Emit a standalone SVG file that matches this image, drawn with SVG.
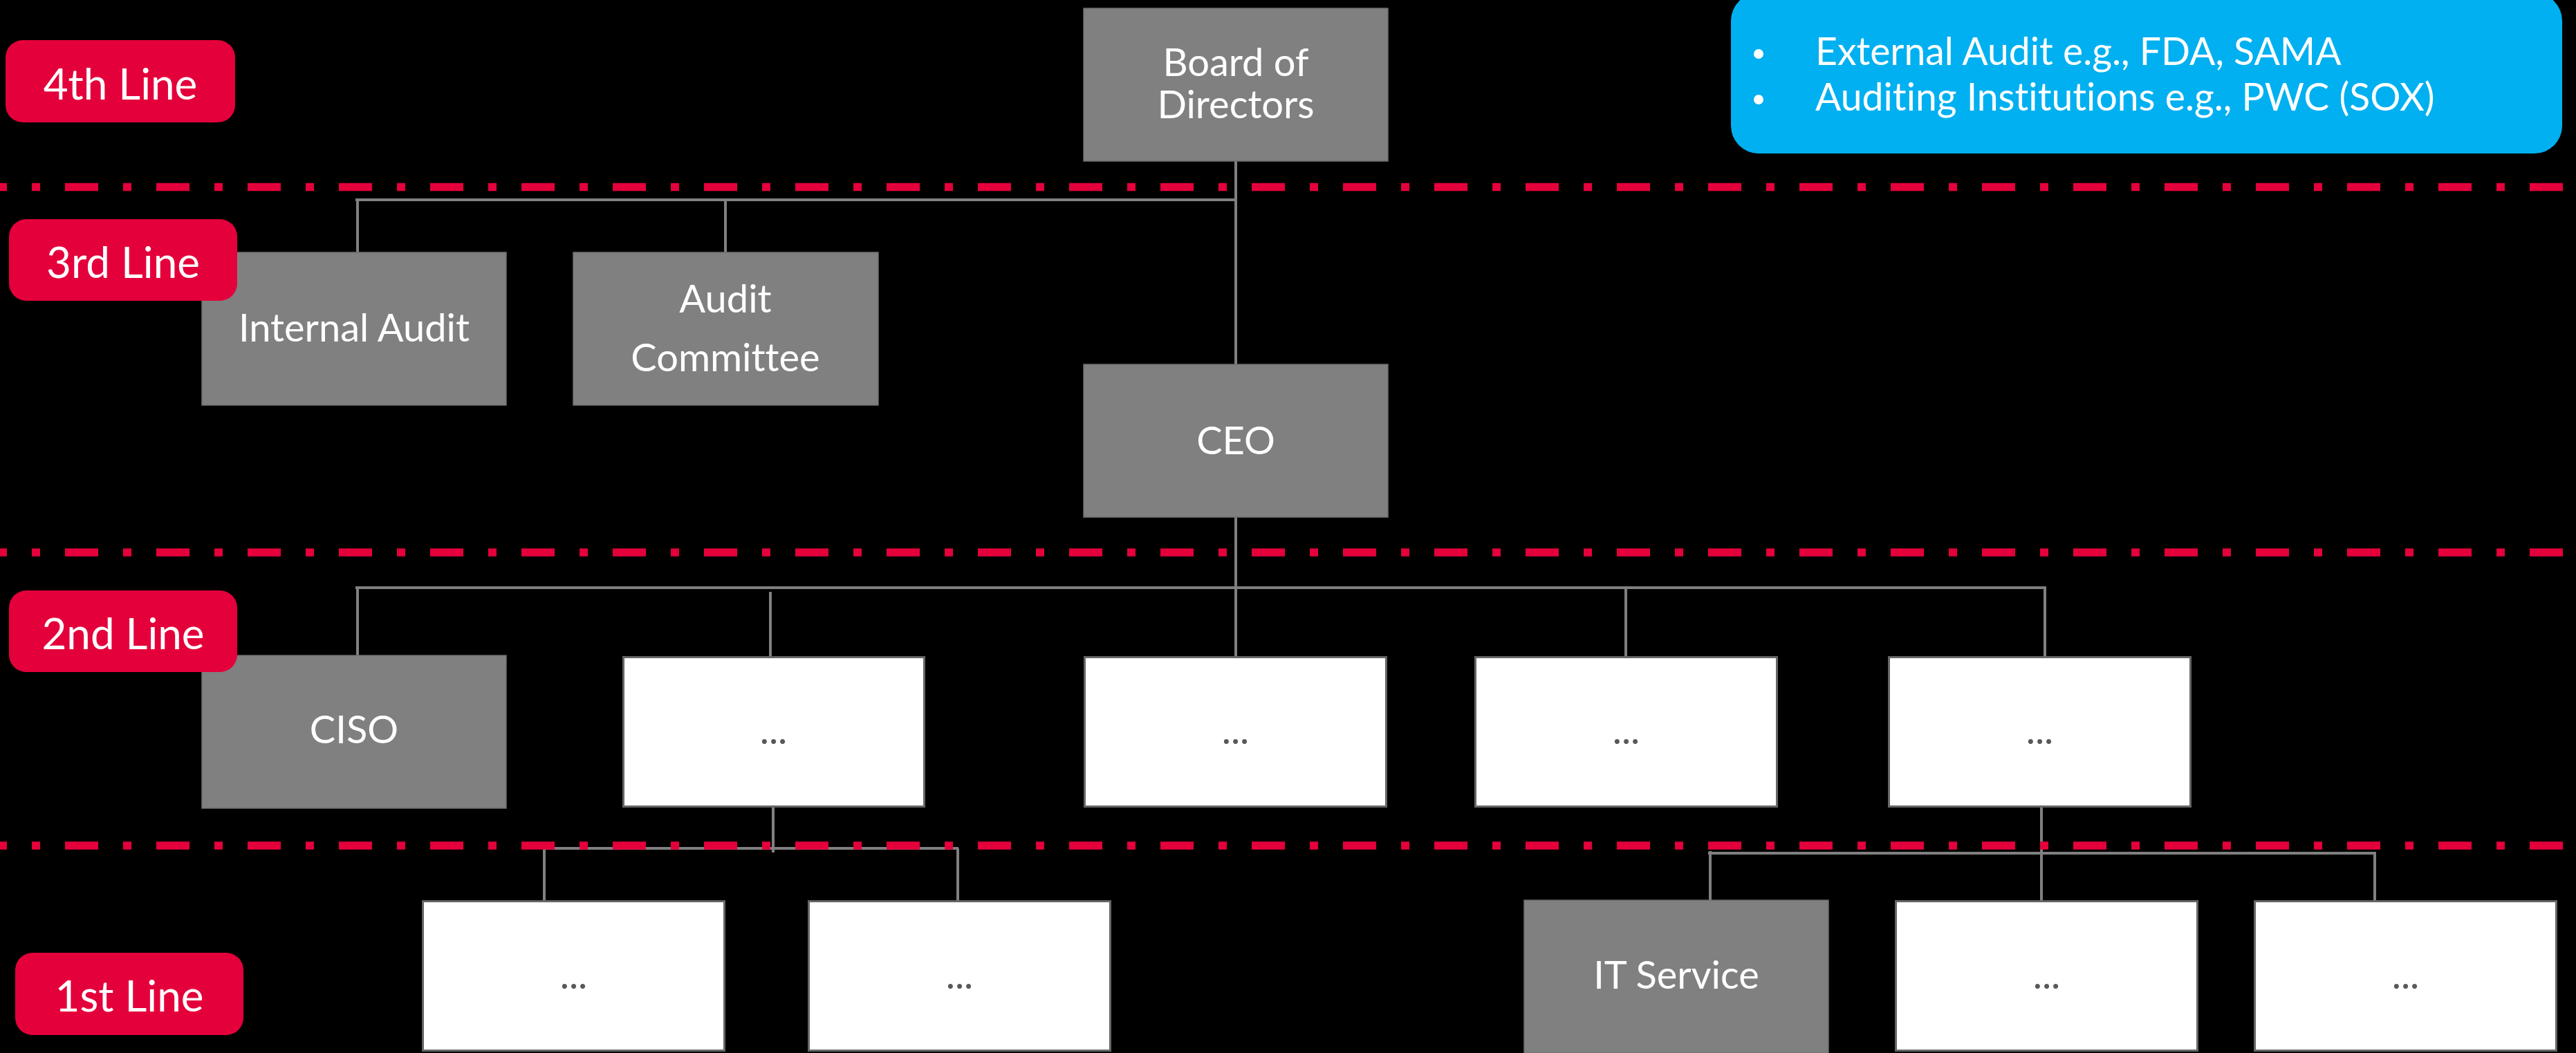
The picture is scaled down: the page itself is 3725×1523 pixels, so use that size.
<svg xmlns="http://www.w3.org/2000/svg" width="3725" height="1523" viewBox="0 0 3725 1523">
<style>
text{font-family:Lato,"Liberation Sans",sans-serif;font-variant-ligatures:none;}
.bg{fill:#000000;}
.gray{fill:#808080;stroke:#6e6e6e;stroke-width:1.5;}
.white{fill:#ffffff;stroke:#666666;stroke-width:3;}
.badge{fill:#E4003B;}
.lbl{fill:#ffffff;font-size:62px;text-anchor:middle;}
.nt{fill:#ffffff;font-size:56px;text-anchor:middle;}
.dots{fill:#595959;font-size:56px;text-anchor:middle;}
.bt{fill:#ffffff;font-size:55.3px;}
.conn{stroke:#808080;stroke-width:4;fill:none;}
.sep{stroke:#E4003B;stroke-width:11.5;stroke-dasharray:48 36 12 36;stroke-dashoffset:38;fill:none;}
</style>
<rect class="bg" x="0" y="0" width="3725" height="1523"/>

<g id="connectors">
<path class="conn" d="M1787 233V527M514 289H1787M517 289V365M1049 289V365"/>
<path class="conn" d="M1787 748V949M514 850H2959M517 850V948M1114 856V949M2351 850V949M2957 850V949"/>
<path class="conn" d="M1118 1168V1233M787 1227H1386M787 1227V1302M1385 1227V1302"/>
<path class="conn" d="M2952 1168V1302M2470 1234H3436M2473 1231V1302M3434 1234V1302"/>
</g>

<g id="separators">
<line class="sep" x1="0" y1="270.5" x2="3725" y2="270.5"/>
<line class="sep" x1="0" y1="799" x2="3725" y2="799"/>
<line class="sep" x1="0" y1="1223" x2="3725" y2="1223"/>
</g>

<g id="external-audit">
<rect x="2503" y="-10" width="1202" height="232" rx="40" fill="#00B0F0"/>
<circle cx="2543" cy="78" r="7" fill="#ffffff"/>
<circle cx="2543" cy="144" r="7" fill="#ffffff"/>
<text class="bt" x="2625" y="94">External Audit e.g., FDA, SAMA</text>
<text class="bt" x="2625" y="160">Auditing Institutions e.g., PWC (SOX)</text>
</g>

<g id="board">
<rect class="gray" x="1567" y="12" width="440" height="221"/>
<text class="nt" x="1787" y="110">Board of</text>
<text class="nt" x="1787" y="171">Directors</text>
</g>
<g id="internal-audit">
<rect class="gray" x="292" y="365" width="440" height="221"/>
<text class="nt" x="512" y="494">Internal Audit</text>
</g>
<g id="audit-committee">
<rect class="gray" x="829" y="365" width="441" height="221"/>
<text class="nt" x="1049" y="452">Audit</text>
<text class="nt" x="1049" y="537">Committee</text>
</g>
<g id="ceo">
<rect class="gray" x="1567" y="527" width="440" height="221"/>
<text class="nt" x="1787" y="657">CEO</text>
</g>
<g id="ciso">
<rect class="gray" x="292" y="948" width="440" height="221"/>
<text class="nt" x="512" y="1075">CISO</text>
</g>
<g id="l2-a">
<rect class="white" x="901.5" y="950.5" width="435" height="216"/>
<text class="dots" x="1118.5" y="1076">...</text>
</g>
<g id="l2-b">
<rect class="white" x="1568.5" y="950.5" width="436" height="216"/>
<text class="dots" x="1786.5" y="1076">...</text>
</g>
<g id="l2-c">
<rect class="white" x="2133.5" y="950.5" width="436" height="216"/>
<text class="dots" x="2351.5" y="1076">...</text>
</g>
<g id="l2-d">
<rect class="white" x="2731.5" y="950.5" width="436" height="216"/>
<text class="dots" x="2949.5" y="1076">...</text>
</g>
<g id="l1-a">
<rect class="white" x="611.5" y="1303.5" width="436" height="216"/>
<text class="dots" x="829.5" y="1430">...</text>
</g>
<g id="l1-b">
<rect class="white" x="1169.5" y="1303.5" width="436" height="216"/>
<text class="dots" x="1387.5" y="1430">...</text>
</g>
<g id="it-service">
<rect class="gray" x="2204" y="1302" width="440" height="221"/>
<text class="nt" x="2424" y="1430">IT Service</text>
</g>
<g id="l1-d">
<rect class="white" x="2741.5" y="1303.5" width="436" height="216"/>
<text class="dots" x="2959.5" y="1430">...</text>
</g>
<g id="l1-e">
<rect class="white" x="3260.5" y="1303.5" width="436" height="216"/>
<text class="dots" x="3478.5" y="1430">...</text>
</g>

<g id="line4">
<rect class="badge" x="8" y="58" width="332" height="119" rx="25"/>
<text class="lbl" x="174" y="143.5">4th Line</text>
</g>
<g id="line3">
<rect class="badge" x="13" y="317" width="330" height="118" rx="25"/>
<text class="lbl" x="178" y="402">3rd Line</text>
</g>
<g id="line2">
<rect class="badge" x="13" y="854" width="330" height="118" rx="25"/>
<text class="lbl" x="178" y="939">2nd Line</text>
</g>
<g id="line1">
<rect class="badge" x="22" y="1378" width="330" height="119" rx="25"/>
<text class="lbl" x="187" y="1463">1st Line</text>
</g>
</svg>
